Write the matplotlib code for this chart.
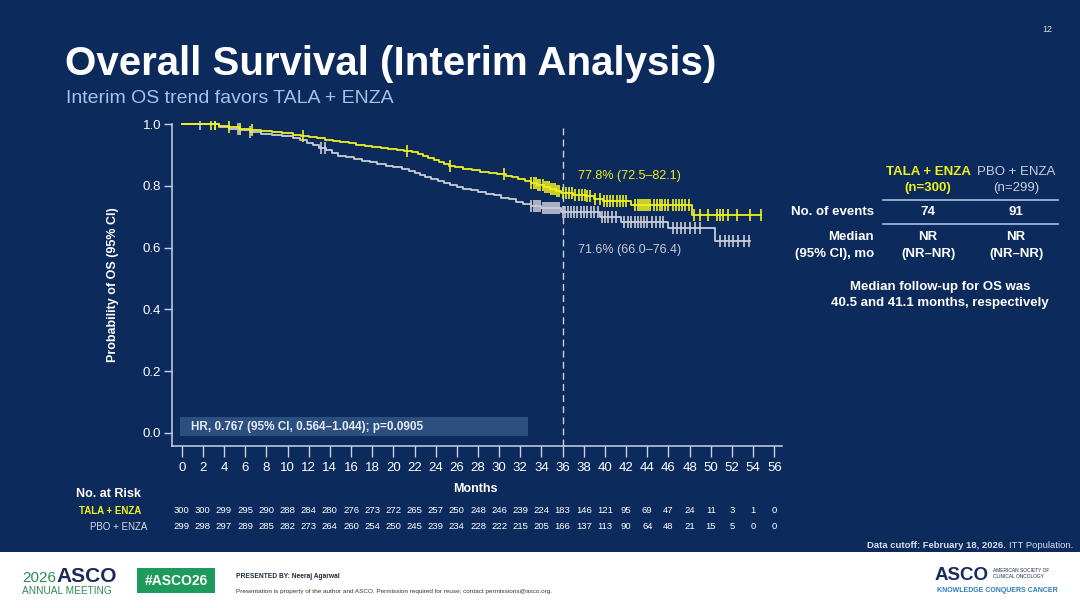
import numpy as np
import matplotlib
matplotlib.use("Agg")
import matplotlib.pyplot as plt
from matplotlib.patches import Rectangle
from matplotlib.transforms import blended_transform_factory

plt.rcParams['font.family'] = ['Liberation Sans', 'DejaVu Sans']

# KM step points (month, survival after the step)
tala_t = [0, 3.5, 4.5, 5.5, 6.5, 7.5, 8.5, 9.5, 10.5, 11.3, 12.0, 12.8, 13.5, 14.3, 15.0, 15.8, 16.5, 17.3,
          18.0, 18.8, 19.5, 20.3, 21.0, 21.8, 22.3, 22.8, 23.3, 23.8, 24.3, 24.8, 25.3, 25.8, 26.6, 27.4,
          28.2, 29.0, 29.8, 30.6, 31.2, 31.8, 32.4, 33.0, 33.6, 34.2, 34.8, 35.4, 35.8, 37.0, 38.2, 39.0,
          39.8, 42.5, 48.2]
tala_s = [1.0, 0.995, 0.99, 0.986, 0.982, 0.978, 0.974, 0.97, 0.966, 0.962, 0.958, 0.954, 0.95, 0.946, 0.942,
          0.938, 0.934, 0.93, 0.926, 0.922, 0.919, 0.916, 0.913, 0.91, 0.903, 0.896, 0.89, 0.884, 0.878, 0.872,
          0.866, 0.86, 0.855, 0.85, 0.846, 0.842, 0.838, 0.833, 0.828, 0.822, 0.816, 0.81, 0.803, 0.796, 0.789,
          0.783, 0.778, 0.772, 0.766, 0.758, 0.75, 0.738, 0.707]
tala_end = 54.7
pbo_t = [0, 3.5, 4.5, 5.5, 6.5, 7.5, 8.5, 9.5, 10.5, 11.2, 11.8, 12.4, 13.0, 13.6, 14.2, 14.8, 15.5, 16.3,
         17.0, 17.8, 18.5, 19.3, 20.0, 20.8, 21.5, 22.0, 22.5, 23.0, 23.6, 24.2, 24.8, 25.4, 26.0, 26.6,
         27.3, 28.0, 28.8, 29.5, 30.2, 30.9, 31.6, 32.3, 33.0, 34.0, 35.8, 39.5, 41.5, 46.0, 50.4]
pbo_s = [1.0, 0.992, 0.986, 0.98, 0.974, 0.969, 0.965, 0.961, 0.956, 0.948, 0.94, 0.932, 0.924, 0.915, 0.906,
         0.898, 0.893, 0.887, 0.882, 0.876, 0.87, 0.865, 0.86, 0.855, 0.849, 0.842, 0.835, 0.829, 0.823, 0.817,
         0.811, 0.804, 0.797, 0.791, 0.786, 0.781, 0.775, 0.769, 0.762, 0.756, 0.749, 0.742, 0.734, 0.727,
         0.716, 0.700, 0.684, 0.662, 0.622]
pbo_end = 53.7

tala_cens = [2.8, 3.1, 4.5, 5.5, 6.6, 11.5, 21.3, 25.4, 30.5, 33.0, 33.3, 33.5, 33.7, 33.9, 34.1, 34.3, 34.5,
             34.7, 34.9, 35.1, 35.3, 35.5, 35.7, 36.0, 36.3, 36.6, 36.9, 37.2, 37.5, 37.8, 38.1, 38.3, 38.6,
             39.1, 39.5, 39.9, 40.2, 40.5, 40.8, 41.1, 41.4, 41.7, 42.0, 42.8, 43.1, 43.3, 43.5, 43.7, 43.9,
             44.1, 44.3, 44.6, 44.9, 45.2, 45.4, 45.7, 46.0, 46.4, 46.7, 47.0, 47.3, 47.6, 47.9, 48.4, 49.0,
             49.7, 50.6, 50.9, 51.2, 51.6, 52.5, 53.7, 54.7]
pbo_cens = [1.7, 3.1, 5.3, 6.5, 13.2, 13.5, 33.0, 33.3, 33.5, 33.7, 33.9, 34.1, 34.3, 34.5, 34.7, 34.9, 35.1,
            35.3, 35.5, 35.7, 36.0, 36.2, 36.5, 36.8, 37.1, 37.4, 37.7, 38.0, 38.3, 38.7, 39.0, 39.3, 39.7,
            40.0, 40.3, 40.7, 41.0, 41.8, 42.2, 42.5, 42.8, 43.1, 43.4, 43.7, 44.0, 44.4, 44.8, 45.2, 45.5,
            46.4, 46.8, 47.2, 47.6, 48.0, 48.5, 49.0, 50.9, 51.3, 51.7, 52.1, 52.6, 53.1, 53.6]

months = list(range(0, 57, 2))
risk_tala = [300, 300, 299, 295, 290, 288, 284, 280, 276, 273, 272, 265, 257, 250, 248, 246, 239, 224, 183,
             146, 121, 95, 69, 47, 24, 11, 3, 1, 0]
risk_pbo = [299, 298, 297, 289, 285, 282, 273, 264, 260, 254, 250, 245, 239, 234, 228, 222, 215, 205, 166,
            137, 113, 90, 64, 48, 21, 15, 5, 0, 0]

navy = '#0c2a5c'
yellow = '#f0f01e'
grey = '#c9cdd6'
axcol = '#c8d2e4'
white = '#ffffff'

fig = plt.figure(figsize=(10.8, 6.08), dpi=100, facecolor=navy)

# overlay in pixel coordinates for slide text
ov = fig.add_axes([0, 0, 1, 1])
ov.set_xlim(0, 1080)
ov.set_ylim(608, 0)
ov.axis('off')
ov.patch.set_alpha(0)

ax = fig.add_axes([171.7 / 1080, 1 - 446 / 608, (781.7 - 171.7) / 1080, (446 - 121.1) / 608])
ax.set_facecolor('none')
ax.set_xlim(-0.945, 56.7)
ax.set_ylim(-0.043, 1.01)


def step_y(t_list, s_list, x):
    i = np.searchsorted(t_list, x, side='right') - 1
    return np.array(s_list)[i]


ax.step(pbo_t + [pbo_end], pbo_s + [pbo_s[-1]], where='post', color=grey, lw=1.3, zorder=3)
ax.step(tala_t + [tala_end], tala_s + [tala_s[-1]], where='post', color=yellow, lw=1.3, zorder=4)
ax.plot(pbo_cens, step_y(pbo_t, pbo_s, pbo_cens), ls='none', marker='|', ms=9, mew=1.2, color=grey, zorder=3)
ax.plot(tala_cens, step_y(tala_t, tala_s, tala_cens), ls='none', marker='|', ms=9, mew=1.2, color=yellow, zorder=4)

ax.plot([36, 36], [-0.043, 1.0], color=axcol, lw=1, dashes=(5, 3), zorder=2)

for s in ['top', 'right']:
    ax.spines[s].set_visible(False)
for s in ['left', 'bottom']:
    ax.spines[s].set_color(axcol)
    ax.spines[s].set_linewidth(1.1)
ax.spines['left'].set_bounds(-0.043, 1.0)

ax.set_xticks(months)
ax.set_yticks([0, 0.2, 0.4, 0.6, 0.8, 1.0])
ax.set_yticklabels(['0.0', '0.2', '0.4', '0.6', '0.8', '1.0'])
ax.tick_params(axis='x', direction='out', length=7.7, width=1, color=axcol, labelcolor=white, labelsize=9.5, pad=4)
ax.tick_params(axis='y', direction='out', length=6, width=1, color=axcol, labelcolor=white, labelsize=9.5, pad=1.5)

# HR box
ov.add_patch(Rectangle((180, 416.7), 347.7, 19.3, facecolor='#2c4f80', edgecolor='none', zorder=1))
ov.text(190.7, 426.7, 'HR, 0.767 (95% CI, 0.564\u20131.044); p=0.0905', color='#e6ecf4', fontsize=8.5,
        fontweight='bold', va='center', ha='left')

ov.text(578, 175.7, '77.8% (72.5\u201382.1)', color=yellow, fontsize=9, va='center')
ov.text(578, 250, '71.6% (66.0\u201376.4)', color=grey, fontsize=9, va='center')

ov.text(113, 285, 'Probability of OS (95% CI)', color=white, fontsize=9, fontweight='bold', rotation=90,
        va='center', ha='center')
ov.text(475, 489, 'Months', color=white, fontsize=9, fontweight='bold', va='center', ha='center')

# number at risk
ov.text(76.5, 494, 'No. at Risk', color=white, fontsize=9, fontweight='bold', va='center', ha='left')
ov.text(141, 510.7, 'TALA + ENZA', color=yellow, fontsize=7, fontweight='bold', va='center', ha='right')
ov.text(147, 526.7, 'PBO + ENZA', color='#d8deea', fontsize=7, va='center', ha='right')
tr = blended_transform_factory(ax.transData, ov.transData)
for m, a, b in zip(months, risk_tala, risk_pbo):
    ax.text(m, 510.7, str(a), transform=tr, color=white, fontsize=6.8, ha='center', va='center')
    ax.text(m, 526.7, str(b), transform=tr, color=white, fontsize=6.8, ha='center', va='center')

# titles
ov.text(65, 75, 'Overall Survival (Interim Analysis)', color=white, fontsize=29, fontweight='bold',
        va='baseline', ha='left')
ov.text(65.5, 102.7, 'Interim OS trend favors TALA + ENZA', color='#a9c1e8', fontsize=14,
        va='baseline', ha='left')
ov.text(1047, 29.3, '12', color='#d0d8e8', fontsize=6.5, va='center', ha='center')

# right table
c1, c2 = 928, 1016
ov.text(c1, 171.7, 'TALA + ENZA', color=yellow, fontsize=9.5, fontweight='bold', ha='center', va='center')
ov.text(c1, 188, '(n=300)', color=yellow, fontsize=9.5, fontweight='bold', ha='center', va='center')
ov.text(c2, 171.7, 'PBO + ENZA', color='#c8d0e0', fontsize=9.5, ha='center', va='center')
ov.text(c2, 188, '(n=299)', color='#c8d0e0', fontsize=9.5, ha='center', va='center')
ov.plot([883, 1058], [200, 200], color='#a8bfe0', lw=1.2)
ov.text(874, 212, 'No. of events', color=white, fontsize=9.5, fontweight='bold', ha='right', va='center')
ov.text(c1, 212, '74', color=white, fontsize=9.5, fontweight='bold', ha='center', va='center')
ov.text(c2, 212, '91', color=white, fontsize=9.5, fontweight='bold', ha='center', va='center')
ov.plot([883, 1058], [224, 224], color='#a8bfe0', lw=1.2)
ov.text(874, 236.7, 'Median', color=white, fontsize=9.5, fontweight='bold', ha='right', va='center')
ov.text(874, 253.7, '(95% CI), mo', color=white, fontsize=9.5, fontweight='bold', ha='right', va='center')
for c in [c1, c2]:
    ov.text(c, 236.7, 'NR', color=white, fontsize=9.5, fontweight='bold', ha='center', va='center')
    ov.text(c, 253.7, '(NR\u2013NR)', color=white, fontsize=9.5, fontweight='bold', ha='center', va='center')
ov.text(940, 286.7, 'Median follow-up for OS was', color=white, fontsize=9.5, fontweight='bold',
        ha='center', va='center')
ov.text(940, 303, '40.5 and 41.1 months, respectively', color=white, fontsize=9.5, fontweight='bold',
        ha='center', va='center')

# data cutoff
ov.text(1006, 545.7, 'Data cutoff: February 18, 2026.', color='#d8deea', fontsize=6.8, fontweight='bold',
        ha='right', va='center')
ov.text(1073, 545.7, 'ITT Population.', color='#d8deea', fontsize=6.8, ha='right', va='center')

# footer
ov.add_patch(Rectangle((0, 552), 1080, 56, facecolor=white, edgecolor='none', zorder=1))
ov.text(22, 582, '2026', color='#2e8b57', fontsize=11, va='baseline', ha='left', zorder=2)
ov.text(56, 582, 'ASCO', color='#1b2a5a', fontsize=15, fontweight='bold', va='baseline', ha='left', zorder=2)
ov.text(22, 591, 'ANNUAL MEETING', color='#2e8b57', fontsize=7.3, va='center', ha='left', zorder=2)
ov.add_patch(Rectangle((137, 568), 78, 25, facecolor='#1e9a5c', edgecolor='none', zorder=2))
ov.text(176, 581, '#ASCO26', color=white, fontsize=10, fontweight='bold', ha='center', va='center', zorder=3)
ov.text(236, 576.7, 'PRESENTED BY: Neeraj Agarwal', color='#1b2a3a', fontsize=4.8, fontweight='bold',
        va='center', ha='left', zorder=2)
ov.text(236, 591.7, 'Presentation is property of the author and ASCO. Permission required for reuse; '
        'contact permissions@asco.org.', color='#333333', fontsize=4.6, va='center', ha='left', zorder=2)
ov.text(935, 580, 'ASCO', color='#1b2a5a', fontsize=13.5, fontweight='bold', va='baseline', ha='left', zorder=2)
ov.text(993, 570, 'AMERICAN SOCIETY OF', color='#1b2a5a', fontsize=3.5, va='center', ha='left', zorder=2)
ov.text(993, 577, 'CLINICAL ONCOLOGY', color='#1b2a5a', fontsize=3.5, va='center', ha='left', zorder=2)
ov.text(937, 591, 'KNOWLEDGE CONQUERS CANCER', color='#2a7bb8', fontsize=5, fontweight='bold',
        va='center', ha='left', zorder=2)

plt.savefig('out.png', dpi=100, facecolor=navy)
